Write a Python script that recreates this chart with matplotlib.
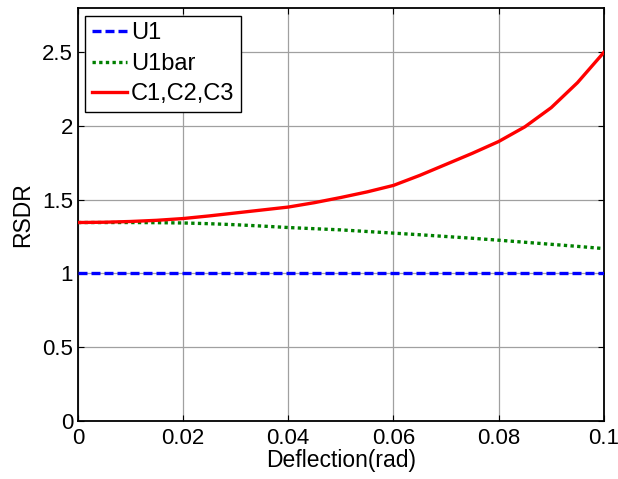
import matplotlib
matplotlib.use("Agg")
import matplotlib.pyplot as plt

plt.rcParams['font.family'] = ['Liberation Sans', 'DejaVu Sans']

# Deflection samples (rad)
deflection = [0.0, 0.005, 0.01, 0.015, 0.02, 0.025, 0.03, 0.035, 0.04, 0.045,
              0.05, 0.055, 0.06, 0.065, 0.07, 0.075, 0.08, 0.085, 0.09, 0.095, 0.1]

# RSDR for each configuration
rsdr_u1 = [1.0] * len(deflection)
rsdr_u1bar = [1.345, 1.345, 1.345, 1.344, 1.342, 1.337, 1.330, 1.321, 1.311, 1.303,
              1.295, 1.284, 1.273, 1.262, 1.250, 1.238, 1.225, 1.211, 1.197, 1.183, 1.168]
rsdr_c = [1.345, 1.347, 1.352, 1.360, 1.372, 1.390, 1.410, 1.430, 1.450, 1.480,
          1.515, 1.553, 1.597, 1.665, 1.740, 1.815, 1.895, 1.995, 2.125, 2.295, 2.500]

labels = ['U1', 'U1bar', 'C1,C2,C3']
x_ticks = [0, 0.02, 0.04, 0.06, 0.08, 0.1]
x_ticklabels = ['0', '0.02', '0.04', '0.06', '0.08', '0.1']
y_ticks = [0, 0.5, 1, 1.5, 2, 2.5]
y_ticklabels = ['0', '0.5', '1', '1.5', '2', '2.5']

fig = plt.figure(figsize=(6.18, 4.79), dpi=100)
ax = fig.add_axes([0.126, 0.122, 0.851, 0.8607])

lw = 2.4
ax.plot(deflection, rsdr_u1, color='#0000ff', lw=lw, linestyle=(0, (2.7, 1.2)),
        dash_capstyle='butt', label=labels[0], zorder=3)
ax.plot(deflection, rsdr_u1bar, color='#008000', lw=lw, linestyle=(0, (1.0, 1.0)),
        dash_capstyle='butt', label=labels[1], zorder=4)
ax.plot(deflection, rsdr_c, color='#ff0000', lw=lw, linestyle='-',
        label=labels[2], zorder=5)

ax.set_xlim(0, 0.1)
ax.set_ylim(0, 2.8)
ax.set_xticks(x_ticks)
ax.set_xticklabels(x_ticklabels)
ax.set_yticks(y_ticks)
ax.set_yticklabels(y_ticklabels)

ax.grid(True, color='#a0a0a0', lw=0.9, linestyle='-')
ax.set_axisbelow(True)

ax.tick_params(direction='in', length=4, width=0.8, top=True, right=True,
               labelsize=16, colors='black')
ax.tick_params(axis='x', pad=5.5)
ax.tick_params(axis='y', pad=3.5)
for s in ax.spines.values():
    s.set_color('black')
    s.set_linewidth(1.3)

ax.set_xlabel('Deflection(rad)', fontsize=16.5, labelpad=0)
ax.set_ylabel('RSDR', fontsize=16.5, labelpad=6)

leg = ax.legend(loc='upper left', fontsize=17, frameon=True, fancybox=False,
                framealpha=1, edgecolor='black', borderaxespad=0.32,
                borderpad=0.28, handlelength=1.48, handletextpad=0.16,
                labelspacing=0.36)
leg.get_frame().set_linewidth(1.0)

fig.savefig('out.png', dpi=100)
